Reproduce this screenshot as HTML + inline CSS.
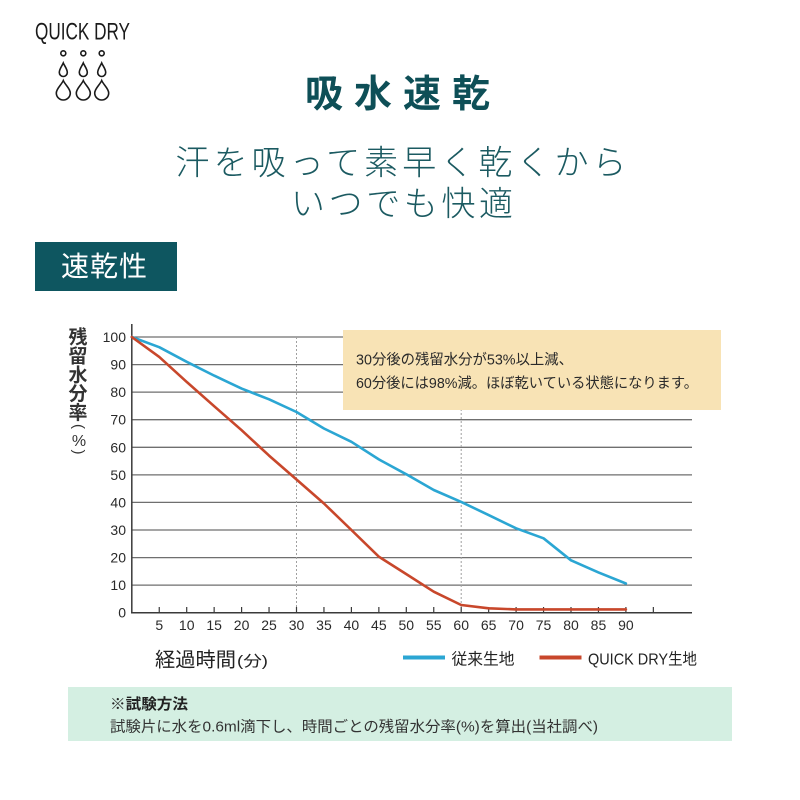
<!DOCTYPE html>
<html>
<head>
<meta charset="utf-8">
<style>
  html,body{margin:0;padding:0;background:#fff;}
  svg{display:block;}
  text{font-family:"Liberation Sans","Noto Sans CJK JP",sans-serif;}
</style>
</head>
<body>
<svg width="800" height="800" viewBox="0 0 800 800" xmlns="http://www.w3.org/2000/svg">
  <rect x="0" y="0" width="800" height="800" fill="#ffffff"/>

  <!-- Logo -->
  <text x="35" y="39.5" font-size="24" fill="#1a1a1a" textLength="95" lengthAdjust="spacingAndGlyphs" style="font-family:'Liberation Sans Narrow','Liberation Sans',sans-serif;">QUICK DRY</text>
  <g fill="none" stroke="#1a1a1a" stroke-width="1.6">
    <circle cx="63.3" cy="53.3" r="2.5"/>
    <circle cx="83.3" cy="53.3" r="2.5"/>
    <circle cx="101.7" cy="53.3" r="2.5"/>
    <path d="M63.3,63 C64.5,66 67.3,69 67.3,72.5 A4,4 0 0 1 59.3,72.5 C59.3,69 62,66 63.3,63 Z"/>
    <path d="M83.3,63 C84.5,66 87.3,69 87.3,72.5 A4,4 0 0 1 79.3,72.5 C79.3,69 82,66 83.3,63 Z"/>
    <path d="M101.7,63 C102.9,66 105.7,69 105.7,72.5 A4,4 0 0 1 97.7,72.5 C97.7,69 100.4,66 101.7,63 Z"/>
    <path d="M63.3,80.5 C65.2,85 70.3,88.5 70.3,93 A7,7 0 0 1 56.3,93 C56.3,88.5 61.4,85 63.3,80.5 Z"/>
    <path d="M83.3,80.5 C85.2,85 90.3,88.5 90.3,93 A7,7 0 0 1 76.3,93 C76.3,88.5 81.4,85 83.3,80.5 Z"/>
    <path d="M101.7,80.5 C103.6,85 108.7,88.5 108.7,93 A7,7 0 0 1 94.7,93 C94.7,88.5 99.8,85 101.7,80.5 Z"/>
  </g>

  <!-- Title -->
  <text x="305 354 403 452" y="107" font-size="38" font-weight="700" fill="#0e4f57">吸水速乾</text>

  <!-- Subtitle -->
  <text x="175.5" y="174.5" font-size="34" font-weight="300" fill="#1b5a61" textLength="451" lengthAdjust="spacing">汗を吸って素早く乾くから</text>
  <text x="291" y="215.5" font-size="34" font-weight="300" fill="#1b5a61" textLength="222" lengthAdjust="spacing">いつでも快適</text>

  <!-- Section label -->
  <rect x="35" y="242" width="142" height="49" fill="#0e5660"/>
  <text x="61" y="276" font-size="28" fill="#ffffff" textLength="86" lengthAdjust="spacing">速乾性</text>

  <!-- Y axis label -->
  <g font-size="19" font-weight="700" fill="#333" text-anchor="middle">
    <text x="78" y="343.5">残</text>
    <text x="78" y="362.5">留</text>
    <text x="78" y="381.5">水</text>
    <text x="78" y="400">分</text>
    <text x="78" y="419">率</text>
  </g>
  <text x="0" y="0" font-size="15" fill="#333" text-anchor="middle" transform="translate(79,426.5) rotate(90)" dy="5">(</text>
  <text x="79" y="446" font-size="16" fill="#333" text-anchor="middle">%</text>
  <text x="0" y="0" font-size="15" fill="#333" text-anchor="middle" transform="translate(79,452) rotate(90)" dy="5">)</text>

  <!-- Gridlines -->
  <g stroke="#6f6f6f" stroke-width="1.3">
    <line x1="131.8" y1="337" x2="692" y2="337"/>
    <line x1="131.8" y1="364.6" x2="692" y2="364.6"/>
    <line x1="131.8" y1="392.1" x2="692" y2="392.1"/>
    <line x1="131.8" y1="419.7" x2="692" y2="419.7"/>
    <line x1="131.8" y1="447.3" x2="692" y2="447.3"/>
    <line x1="131.8" y1="474.9" x2="692" y2="474.9"/>
    <line x1="131.8" y1="502.4" x2="692" y2="502.4"/>
    <line x1="131.8" y1="530" x2="692" y2="530"/>
    <line x1="131.8" y1="557.6" x2="692" y2="557.6"/>
    <line x1="131.8" y1="585.1" x2="692" y2="585.1"/>
  </g>

  <!-- Dotted verticals -->
  <g stroke="#a0a0a0" stroke-width="1" stroke-dasharray="2,2">
    <line x1="296.5" y1="337" x2="296.5" y2="612"/>
    <line x1="461.2" y1="337" x2="461.2" y2="612"/>
  </g>

  <!-- Annotation box -->
  <rect x="343" y="330" width="378" height="80" fill="#f8e3b5"/>
  <text x="356" y="364.5" font-size="14.5" fill="#2a2a2a" textLength="217" lengthAdjust="spacingAndGlyphs">30分後の残留水分が53%以上減、</text>
  <text x="356" y="388" font-size="14.5" fill="#2a2a2a" textLength="342" lengthAdjust="spacingAndGlyphs">60分後には98%減。ほぼ乾いている状態になります。</text>

  <!-- Axes -->
  <g stroke="#3a3a3a" stroke-width="1.5">
    <line x1="131.8" y1="324" x2="131.8" y2="613"/>
    <line x1="131" y1="612.7" x2="692" y2="612.7"/>
  </g>
  <!-- X ticks -->
  <g stroke="#3a3a3a" stroke-width="1.2">
    <line x1="159.25" y1="607" x2="159.25" y2="612.7"/>
    <line x1="186.7" y1="607" x2="186.7" y2="612.7"/>
    <line x1="214.15" y1="607" x2="214.15" y2="612.7"/>
    <line x1="241.6" y1="607" x2="241.6" y2="612.7"/>
    <line x1="269.05" y1="607" x2="269.05" y2="612.7"/>
    <line x1="296.5" y1="607" x2="296.5" y2="612.7"/>
    <line x1="323.95" y1="607" x2="323.95" y2="612.7"/>
    <line x1="351.4" y1="607" x2="351.4" y2="612.7"/>
    <line x1="378.85" y1="607" x2="378.85" y2="612.7"/>
    <line x1="406.3" y1="607" x2="406.3" y2="612.7"/>
    <line x1="433.75" y1="607" x2="433.75" y2="612.7"/>
    <line x1="461.2" y1="607" x2="461.2" y2="612.7"/>
    <line x1="488.65" y1="607" x2="488.65" y2="612.7"/>
    <line x1="516.1" y1="607" x2="516.1" y2="612.7"/>
    <line x1="543.55" y1="607" x2="543.55" y2="612.7"/>
    <line x1="571" y1="607" x2="571" y2="612.7"/>
    <line x1="598.45" y1="607" x2="598.45" y2="612.7"/>
    <line x1="625.9" y1="607" x2="625.9" y2="612.7"/>
    <line x1="653.35" y1="607" x2="653.35" y2="612.7"/>
  </g>

  <!-- Y tick labels -->
  <g font-size="14" fill="#2a2a2a" text-anchor="end">
    <text x="126" y="342">100</text>
    <text x="126" y="369.6">90</text>
    <text x="126" y="397.1">80</text>
    <text x="126" y="424.7">70</text>
    <text x="126" y="452.3">60</text>
    <text x="126" y="479.9">50</text>
    <text x="126" y="507.4">40</text>
    <text x="126" y="535">30</text>
    <text x="126" y="562.6">20</text>
    <text x="126" y="590.1">10</text>
    <text x="126" y="617.7">0</text>
  </g>

  <!-- X tick labels -->
  <g font-size="14" fill="#2a2a2a" text-anchor="middle">
    <text x="159.25" y="630">5</text>
    <text x="186.7" y="630">10</text>
    <text x="214.15" y="630">15</text>
    <text x="241.6" y="630">20</text>
    <text x="269.05" y="630">25</text>
    <text x="296.5" y="630">30</text>
    <text x="323.95" y="630">35</text>
    <text x="351.4" y="630">40</text>
    <text x="378.85" y="630">45</text>
    <text x="406.3" y="630">50</text>
    <text x="433.75" y="630">55</text>
    <text x="461.2" y="630">60</text>
    <text x="488.65" y="630">65</text>
    <text x="516.1" y="630">70</text>
    <text x="543.55" y="630">75</text>
    <text x="571" y="630">80</text>
    <text x="598.45" y="630">85</text>
    <text x="625.9" y="630">90</text>
  </g>

  <!-- Series -->
  <polyline fill="none" stroke="#2ba6d3" stroke-width="2.6" stroke-linejoin="round" stroke-linecap="round"
    points="131.8,337 159.25,347.2 186.7,361.8 214.15,375.6 241.6,388.6 269.05,399.3 296.5,412 323.95,428.5 351.4,441.8 378.85,459.4 406.3,474.3 433.75,490 461.2,501.9 488.65,515.1 516.1,528.3 543.55,538.3 571,560.3 598.45,572.4 625.9,583.5"/>
  <polyline fill="none" stroke="#c8472b" stroke-width="2.6" stroke-linejoin="round" stroke-linecap="round"
    points="131.8,337 159.25,356.9 186.7,381.9 214.15,406.2 241.6,430.2 269.05,455.6 296.5,479.5 323.95,503.5 351.4,530 378.85,556.7 406.3,574.1 433.75,591.7 461.2,605 488.65,608.3 516.1,609.4 543.55,609.4 571,609.4 598.45,609.4 625.9,609.4"/>

  <!-- X axis label -->
  <text x="155" y="666.5" font-size="20" fill="#222" textLength="81" lengthAdjust="spacingAndGlyphs">経過時間</text>
  <text x="237" y="666" font-size="15" fill="#222" textLength="31" lengthAdjust="spacingAndGlyphs">(分)</text>

  <!-- Legend -->
  <line x1="403" y1="657.5" x2="445" y2="657.5" stroke="#2ba6d3" stroke-width="4"/>
  <text x="451.5" y="664.5" font-size="16" fill="#222" textLength="63" lengthAdjust="spacingAndGlyphs">従来生地</text>
  <line x1="539.5" y1="657.5" x2="581.5" y2="657.5" stroke="#c8472b" stroke-width="4"/>
  <text x="588" y="664.5" font-size="16" fill="#222" textLength="109" lengthAdjust="spacingAndGlyphs">QUICK DRY生地</text>

  <!-- Method box -->
  <rect x="68" y="687" width="664" height="54" fill="#d4efe2"/>
  <text x="110" y="709" font-size="15" font-weight="700" fill="#222" textLength="78" lengthAdjust="spacingAndGlyphs">※試験方法</text>
  <text x="110" y="731.5" font-size="15" fill="#333" textLength="488" lengthAdjust="spacingAndGlyphs">試験片に水を0.6ml滴下し、時間ごとの残留水分率(%)を算出(当社調べ)</text>
</svg>
</body>
</html>
